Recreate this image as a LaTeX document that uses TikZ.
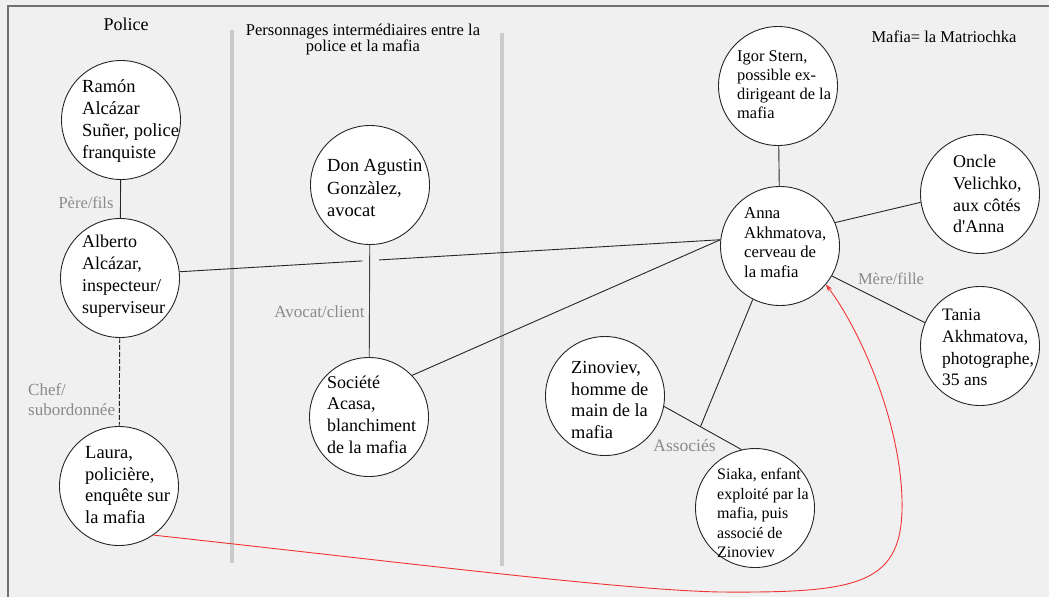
\documentclass[tikz,border=0pt]{standalone}
\usepackage{fontspec}
\setmainfont{Liberation Serif}
\usetikzlibrary{calc,arrows.meta}
\definecolor{bgc}{HTML}{F0F0F0}
\definecolor{framec}{HTML}{707070}
\definecolor{sepc}{HTML}{CBCBCB}
\definecolor{lblc}{HTML}{8A8A8A}
\definecolor{redc}{HTML}{F03434}
\newcommand\myfs[2]{\fontsize{#1}{#2}\selectfont}
\begin{document}
\begin{tikzpicture}[x=1pt,y=-1pt,
  circ/.style={circle,draw=black!85,line width=0.9pt,fill=white,minimum size=119pt,inner sep=0pt},
  txt/.style={anchor=west,align=left,inner sep=0pt,text=black},
  lbl/.style={inner sep=0pt,text=lblc,font=\myfs{17}{20}},
  conn/.style={line width=0.9pt,draw=black!85},
  sepline/.style={line width=4pt,draw=sepc},
  frameline/.style={line width=2pt,draw=framec}]
\fill[bgc] (0,0) rectangle (1049,597);
\useasboundingbox (0,0) rectangle (1049,597);
% frame
\draw[frameline] (8,597) -- (8,6) -- (1049,6);
% separators
\draw[sepline] (232,30) -- (232,563);
\draw[sepline] (502,33) -- (502,566);
% headings
\node[inner sep=0pt,font=\myfs{18}{21}] (police) at (126,24) {Police};
\node[inner sep=0pt,align=center,font=\myfs{16.5}{16}] (inter) at (363,40) {Personnages intermédiaires entre la\\police et la mafia};
\node[inner sep=0pt,font=\myfs{16.5}{19}] (mafia) at (944,37) {Mafia= la Matriochka};
% circles
\node[circ] (ramon) at (121,120) {};
\node[circ] (alberto) at (120,278) {};
\node[circ] (laura) at (119,486) {};
\node[circ] (don) at (370,185) {};
\node[circ] (societe) at (369,417) {};
\node[circ] (igor) at (778,86) {};
\node[circ] (anna) at (780,246) {};
\node[circ] (oncle) at (980,194) {};
\node[circ] (tania) at (980,346) {};
\node[circ] (zin) at (605,396) {};
\node[circ] (siaka) at (755,508) {};
% connectors
\draw[conn] (ramon) -- (alberto);
\draw[conn,dash pattern=on 5pt off 2pt] (alberto) -- (laura);
\draw[conn] (alberto.6) -- (anna.174);
\draw[line width=3pt,draw=bgc] ($(alberto.6)!0.338!(anna.174)$) -- ($(alberto.6)!0.369!(anna.174)$);
\draw[conn,draw=black!75] (don) -- (societe);
\draw[conn] (societe.44) -- (anna.174);
\draw[conn] (igor) -- (anna);
\draw[conn] (anna.23) -- (oncle.188);
\draw[conn] (anna.-30) -- (tania.157);
\draw[conn] (zin.-10) -- (siaka.103);
\coordinate (assoc) at ($(zin.-10)!0.47!(siaka.103)$);
\draw[conn] (anna.243) -- (assoc);
\draw[redc,line width=0.9pt,-{Stealth[length=7pt,width=5pt]}] (laura.-55) .. controls (400,562) and (620,590) .. (720,592) .. controls (860,593) and (904,585) .. (902,500) .. controls (900,420) and (860,330) .. (anna.-40);
% relation labels
\node[lbl,font=\myfs{16.5}{20}] (l-pere) at (86,203) {Père/fils};
\node[lbl,anchor=west,align=left] (l-chef) at (28,400) {Chef/\\subordonnée};
\node[lbl] (l-avocat) at (319.5,312) {Avocat/client};
\node[lbl,font=\myfs{16.5}{20}] (l-mere) at (891,279) {Mère/fille};
\node[lbl,font=\myfs{17.5}{20}] (l-assoc) at (684.5,445) {Associés};
% circle texts
\node[txt,font=\myfs{18.5}{22}] (ramon-t) at (82,121) {Ramón\\Alcázar\\Suñer, police\\franquiste};
\node[txt,font=\myfs{18}{22}] (alberto-t) at (82,276) {Alberto\\Alcázar,\\inspecteur/\\superviseur};
\node[txt,font=\myfs{18.5}{21.7}] (laura-t) at (85,485) {Laura,\\policière,\\enquête sur\\la mafia};
\node[txt,font=\myfs{18.5}{22.5}] (don-t) at (327,188) {Don Agustin\\Gonzàlez,\\avocat};
\node[txt,font=\myfs{18}{21.7}] (societe-t) at (327,414.5) {Société\\Acasa,\\blanchiment\\de la mafia};
\node[txt,font=\myfs{16.4}{19}] (igor-t) at (737,84.5) {Igor Stern,\\possible ex-\\dirigeant de la\\mafia};
\node[txt,font=\myfs{16.7}{19.5}] (anna-t) at (744,242.5) {Anna\\Akhmatova,\\cerveau de\\la mafia};
\node[txt,font=\myfs{18}{21.7}] (oncle-t) at (953,194) {Oncle\\Velichko,\\aux côtés\\d\textquotesingle Anna};
\node[txt,font=\myfs{17.5}{21.7}] (tania-t) at (942,347.5) {Tania\\Akhmatova,\\photographe,\\35 ans};
\node[txt,font=\myfs{18.4}{21.7}] (zin-t) at (571,400) {Zinoviev,\\homme de\\main de la\\mafia};
\node[txt,font=\myfs{16}{19.5}] (siaka-t) at (717,513) {Siaka, enfant\\exploité par la\\mafia, puis\\associé de\\Zinoviev};
\end{tikzpicture}
\end{document}
